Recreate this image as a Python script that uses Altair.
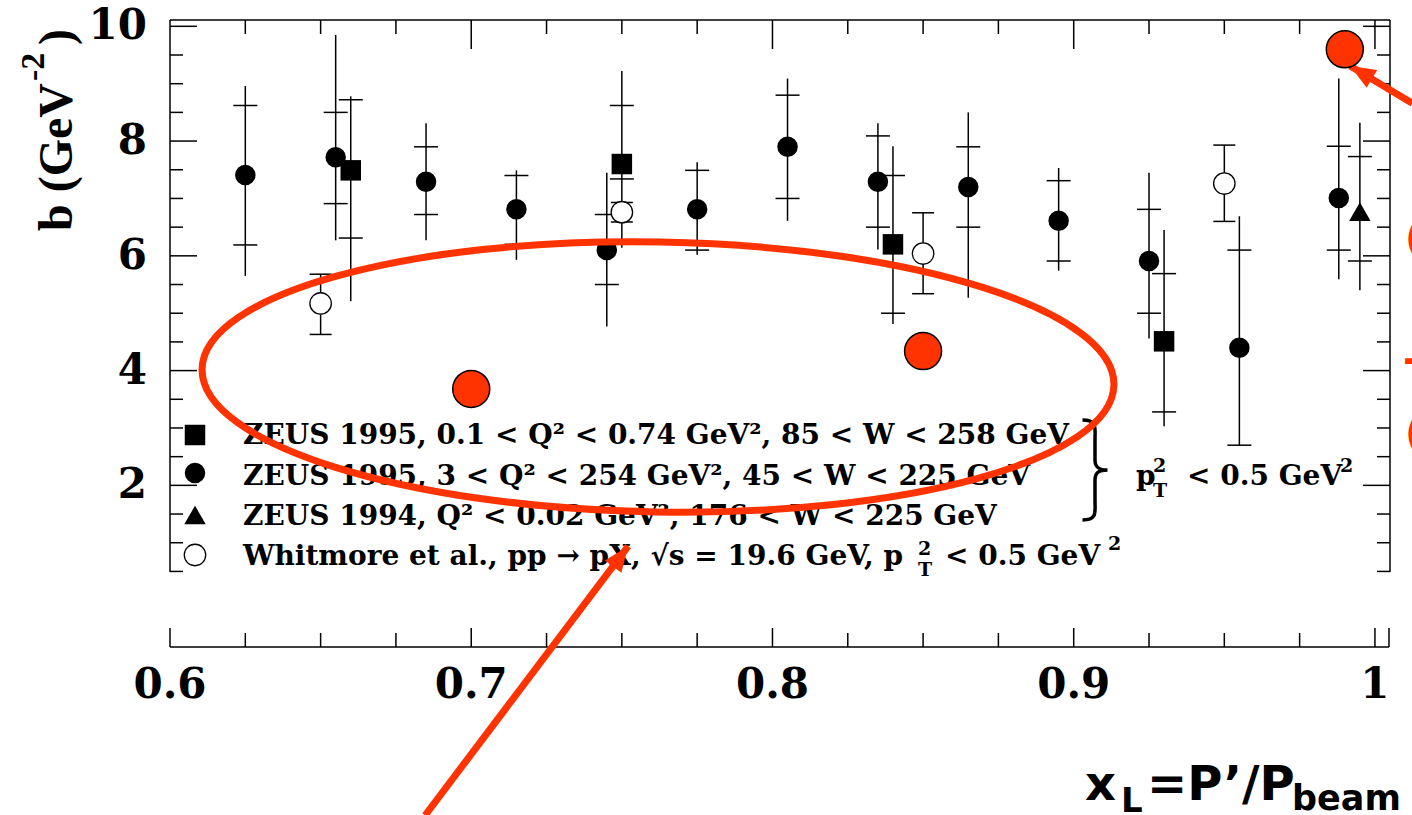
import altair as alt
import pandas as pd

# ---------------- data ----------------
# ZEUS 1995, 3 < Q^2 < 254 GeV^2 (filled circles)
dis_x = [0.625, 0.655, 0.685, 0.715, 0.745, 0.775, 0.805, 0.835, 0.865, 0.895, 0.925, 0.955, 0.988]
dis_b = [7.41, 7.72, 7.29, 6.81, 6.10, 6.81, 7.90, 7.29, 7.20, 6.61, 5.91, 4.40, 7.01]
dis_stat_lo = [6.19, 6.91, 6.72, 6.20, 5.50, 6.10, 7.00, 6.50, 6.50, 5.91, 5.00, 2.70, 6.10]
dis_stat_hi = [8.62, 8.50, 7.90, 7.40, 6.72, 7.49, 8.80, 8.09, 7.90, 7.31, 6.81, 6.10, 7.91]
dis_tot_lo = [5.65, 6.27, 6.27, 5.93, 4.77, 6.02, 6.61, 6.11, 5.27, 5.74, 4.56, 2.70, 5.59]
dis_tot_hi = [8.96, 9.85, 8.31, 7.49, 7.45, 7.63, 9.09, 8.31, 8.50, 7.53, 7.45, 6.69, 9.09]

# ZEUS 1995, 0.1 < Q^2 < 0.74 GeV^2 (filled squares)
bpc_x = [0.66, 0.75, 0.84, 0.93]
bpc_b = [7.49, 7.60, 6.20, 4.51]
bpc_stat_lo = [6.31, 7.34, 5.00, 3.28]
bpc_stat_hi = [8.72, 8.62, 7.40, 5.69]
bpc_tot_lo = [5.21, 6.14, 4.81, 3.03]
bpc_tot_hi = [8.78, 9.22, 7.91, 6.45]

# ZEUS 1994, Q^2 < 0.02 GeV^2 (filled triangle)
php_x = [0.995]
php_b = [6.77]
php_stat_lo = [5.91]
php_stat_hi = [7.73]
php_tot_lo = [5.40]
php_tot_hi = [8.32]

# Whitmore et al. (open circles)
wh_x = [0.65, 0.75, 0.85, 0.95]
wh_b = [5.17, 6.76, 6.04, 7.26]
wh_lo = [4.63, 6.59, 5.34, 6.60]
wh_hi = [5.68, 6.93, 6.75, 7.93]

# red annotation dots and arrows (in data units)
red_x = [0.70, 0.85, 0.99]
red_b = [3.68, 4.34, 9.60]
arrow1_x = [0.6847, 0.7521]
arrow1_b = [-3.75, 0.94]
arrow2_x = [1.0124, 0.9918]
arrow2_b = [8.66, 9.31]

# axis ticks and labels
x_labels = [0.6, 0.7, 0.8, 0.9, 1.0]
x_label_text = ["0.6", "0.7", "0.8", "0.9", "1"]
x_minor = [0.625, 0.65, 0.675, 0.725, 0.75, 0.775, 0.825, 0.85, 0.875, 0.925, 0.95, 0.975]
x_top_major = [0.7, 0.8, 0.9, 1.0]
y_labels = [2, 4, 6, 8, 10]
y_label_text = ["2", "4", "6", "8", "10"]
y_minor = [0.5, 1, 1.5, 2.5, 3, 3.5, 4.5, 5, 5.5, 6.5, 7, 7.5, 8.5, 9, 9.5]

# ---------------- styling ----------------
RED = "#ff3300"
SERIF = "DejaVu Serif"
TSERIF = "Liberation Serif"
SANS = "DejaVu Sans"
W, H = 1220, 552
L, T = 170, 20
XOFF = 75  # x axis drawn below the frame

xs = alt.Scale(domain=[0.6, 1.005], nice=False, zero=False)
ys = alt.Scale(domain=[0.49, 10.11], nice=False, zero=False)

one = pd.DataFrame({"a": [1]})


def frame(df):
    return alt.Chart(df)


# ---------------- tables ----------------
zeus = pd.DataFrame({
    "x": dis_x + bpc_x + php_x,
    "b": dis_b + bpc_b + php_b,
    "slo": dis_stat_lo + bpc_stat_lo + php_stat_lo,
    "shi": dis_stat_hi + bpc_stat_hi + php_stat_hi,
    "tlo": dis_tot_lo + bpc_tot_lo + php_tot_lo,
    "thi": dis_tot_hi + bpc_tot_hi + php_tot_hi,
})
stat_ticks = pd.DataFrame({"x": list(zeus["x"]) * 2, "v": list(zeus["slo"]) + list(zeus["shi"])})
wh = pd.DataFrame({"x": wh_x, "b": wh_b, "lo": wh_lo, "hi": wh_hi})
wh_caps = pd.DataFrame({"x": wh_x * 2, "v": wh_lo + wh_hi})
dis = pd.DataFrame({"x": dis_x, "b": dis_b})
bpc = pd.DataFrame({"x": bpc_x, "b": bpc_b})
php = pd.DataFrame({"x": php_x, "b": php_b})
reds = pd.DataFrame({"x": red_x, "b": red_b})
arrows = pd.DataFrame({"x": arrow1_x + arrow2_x, "b": arrow1_b + arrow2_b,
                       "id": ["a1", "a1", "a2", "a2"], "k": [0, 1, 0, 1]})
head1 = pd.DataFrame({"x": [arrow1_x[1]], "b": [arrow1_b[1]]})
head2 = pd.DataFrame({"x": [arrow2_x[1]], "b": [arrow2_b[1]]})
xlab = pd.DataFrame({"v": x_labels, "t": x_label_text})
ylab = pd.DataFrame({"v": y_labels, "t": y_label_text})

X = alt.X("x:Q", scale=xs, axis=None)
Y = alt.Y("b:Q", scale=ys, axis=None)

layers = []

# frame lines: left, top, right, and the separate x axis line below
layers.append(frame(one).mark_rule(color="black", strokeWidth=1.5).encode(
    x=alt.value(0), y=alt.value(0), y2=alt.value(H)))
layers.append(frame(one).mark_rule(color="black", strokeWidth=1.5).encode(
    x=alt.value(0), x2=alt.value(W), y=alt.value(0)))
layers.append(frame(one).mark_rule(color="black", strokeWidth=1.5).encode(
    x=alt.value(W), y=alt.value(0), y2=alt.value(H)))
layers.append(frame(one).mark_rule(color="black", strokeWidth=1.5).encode(
    x=alt.value(0), x2=alt.value(W - 1), y=alt.value(H + XOFF)))


def yticks(vals, x0, x1):
    return frame(pd.DataFrame({"v": vals})).mark_rule(color="black", strokeWidth=1.5).encode(
        y=alt.Y("v:Q", scale=ys, axis=None), x=alt.value(x0), x2=alt.value(x1))


def xticks(vals, y0, y1):
    return frame(pd.DataFrame({"v": vals})).mark_rule(color="black", strokeWidth=1.5).encode(
        x=alt.X("v:Q", scale=xs, axis=None), y=alt.value(y0), y2=alt.value(y1))


layers += [
    yticks(y_labels, 0, 27), yticks(y_minor, 0, 13),
    yticks(y_labels, W - 27, W), yticks(y_minor, W - 13, W),
    xticks(x_top_major, 0, 29), xticks(x_minor, 0, 14),
    xticks(x_labels, H + XOFF - 19, H + XOFF), xticks(x_minor, H + XOFF - 14, H + XOFF),
]
layers.append(frame(one).mark_rule(color="black", strokeWidth=1.5).encode(
    x=alt.value(W - 1), y=alt.value(H + XOFF - 19), y2=alt.value(H + XOFF)))

# tick labels
layers.append(frame(xlab).mark_text(font=SERIF, fontWeight="bold", fontSize=42, color="black",
                                    align="center", baseline="alphabetic").encode(
    x=alt.X("v:Q", scale=xs, axis=None), y=alt.value(698 - T), text="t:N"))
layers.append(frame(ylab).mark_text(font=SERIF, fontWeight="bold", fontSize=42, color="black",
                                    align="right", baseline="middle").encode(
    y=alt.Y("v:Q", scale=ys, axis=None), x=alt.value(147 - L), text="t:N"))

# error bars
layers.append(frame(zeus).mark_rule(color="black", strokeWidth=1.5).encode(
    x=X, y=alt.Y("tlo:Q", scale=ys, axis=None), y2="thi:Q"))
layers.append(frame(stat_ticks).mark_tick(orient="horizontal", color="black", thickness=1.5, size=24,
                                          opacity=1).encode(x=X, y=alt.Y("v:Q", scale=ys, axis=None)))
layers.append(frame(wh).mark_rule(color="black", strokeWidth=1.5).encode(
    x=X, y=alt.Y("lo:Q", scale=ys, axis=None), y2="hi:Q"))
layers.append(frame(wh_caps).mark_tick(orient="horizontal", color="black", thickness=1.5, size=22,
                                       opacity=1).encode(x=X, y=alt.Y("v:Q", scale=ys, axis=None)))

# markers
layers.append(frame(dis).mark_point(shape="circle", filled=True, color="black", size=420, opacity=1)
              .encode(x=X, y=Y))
layers.append(frame(bpc).mark_point(shape="square", filled=True, color="black", size=420, opacity=1)
              .encode(x=X, y=Y))
layers.append(frame(php).mark_point(shape="triangle-up", filled=True, color="black", size=460, opacity=1)
              .encode(x=X, y=Y))
layers.append(frame(wh).mark_point(shape="circle", filled=True, fill="white", stroke="black",
                                   strokeWidth=1.3, size=460, opacity=1).encode(x=X, y=Y))

# legend symbols
leg_x = 25
layers.append(frame(one).mark_point(shape="square", filled=True, color="black", size=420, opacity=1)
              .encode(x=alt.value(leg_x), y=alt.value(415)))
layers.append(frame(one).mark_point(shape="circle", filled=True, color="black", size=420, opacity=1)
              .encode(x=alt.value(leg_x), y=alt.value(453)))
layers.append(frame(one).mark_point(shape="triangle-up", filled=True, color="black", size=460, opacity=1)
              .encode(x=alt.value(leg_x), y=alt.value(495)))
layers.append(frame(one).mark_point(shape="circle", filled=True, fill="white", stroke="black",
                                    strokeWidth=1.3, size=460, opacity=1)
              .encode(x=alt.value(leg_x), y=alt.value(535)))


def txt(s, px, py, size, font=SERIF, weight="bold", angle=0, color="black", align="left"):
    return frame(one).mark_text(text=s, font=font, fontSize=size, fontWeight=weight, angle=angle,
                                color=color, align=align, baseline="alphabetic").encode(
        x=alt.value(px - L), y=alt.value(py - T))


LEG = 28
SUP = 19
layers += [
    txt("ZEUS 1995, 0.1 < Q² < 0.74 GeV², 85 < W < 258 GeV", 243, 444, LEG),
    txt("ZEUS 1995, 3 < Q² < 254 GeV², 45 < W < 225 GeV", 243, 484.5, LEG),
    txt("ZEUS 1994, Q² < 0.02 GeV², 176 < W < 225 GeV", 243, 524.5, LEG),
    txt("Whitmore et al., pp → pX, √s = 19.6 GeV, p", 243, 565, LEG),
    txt("2", 918, 555, SUP), txt("T", 918, 576, SUP),
    txt("< 0.5 GeV", 945, 565, LEG), txt("2", 1108, 550, SUP),
    txt("p", 1136, 485, LEG), txt("2", 1153, 472, SUP), txt("T", 1153, 497, SUP),
    txt("< 0.5 GeV", 1187, 485, LEG), txt("2", 1340, 472, SUP),
    # y title
    txt("b (GeV", 72, 231, 48, font=TSERIF, angle=270),
    txt("-2", 44, 81, 34, font=TSERIF, angle=270),
    txt(")", 72, 45, 48, font=TSERIF, angle=270),
    # x title
    txt("x", 1085, 800, 48, font=SANS),
    txt("L", 1121, 812, 34, font=SANS),
    txt("=P’/P", 1147, 800, 48, font=SANS),
    txt("beam", 1292, 810, 35, font=SANS),
    # red text cut off at the right edge
    txt("(", 1405, 252, 40, font=SANS, weight="normal", color=RED),
    txt("-", 1403, 373, 40, font=SANS, weight="bold", color=RED),
    txt("(", 1405, 447, 40, font=SANS, weight="normal", color=RED),
]

# brace
BRACE = ("M -0.25 -1 C 0.05 -1 0 -0.85 0 -0.6 L 0 -0.2 C 0 -0.05 0.08 0 0.25 0 "
         "C 0.08 0 0 0.05 0 0.2 L 0 0.6 C 0 0.85 0.05 1 -0.25 1")
layers.append(frame(one).mark_point(shape=BRACE, filled=False, stroke="black", color="black",
                                    strokeWidth=3.5, size=10000, opacity=1)
              .encode(x=alt.value(1095 - L), y=alt.value(470 - T)))

# red annotations
ELLIPSE = ("M -1 0 C -1 -0.1635 -0.5523 -0.296 0 -0.296 C 0.5523 -0.296 1 -0.1635 1 0 "
           "C 1 0.1635 0.5523 0.296 0 0.296 C -0.5523 0.296 -1 0.1635 -1 0 Z")
layers.append(frame(one).mark_point(shape=ELLIPSE, filled=False, stroke=RED, color=RED, strokeWidth=7,
                                    size=912 * 912, opacity=1, angle=1)
              .encode(x=alt.value(658 - L), y=alt.value(377 - T)))
layers.append(frame(arrows).mark_line(color=RED, strokeWidth=7).encode(
    x=X, y=Y, detail="id:N", order="k:Q"))
HEAD = "M 0 0 L 0.65 1.6 L -0.65 1.6 Z"
layers.append(frame(head1).mark_point(shape=HEAD, filled=True, color=RED, size=1000, opacity=1,
                                      angle=36.5).encode(x=X, y=Y))
layers.append(frame(head2).mark_point(shape=HEAD, filled=True, color=RED, size=1000, opacity=1,
                                      angle=301).encode(x=X, y=Y))
layers.append(frame(reds).mark_point(shape="circle", filled=True, fill=RED, stroke="black",
                                     strokeWidth=1.5, size=1369, opacity=1).encode(x=X, y=Y))

chart = alt.layer(*layers).properties(
    width=W, height=H,
    autosize=alt.AutoSizeParams(type="none"),
    padding={"left": L, "top": T, "right": 1412 - L - W, "bottom": 815 - T - H},
    background="white",
).configure_view(stroke=None)

chart.save("out.html", embed_options={"renderer": "svg", "actions": False})
